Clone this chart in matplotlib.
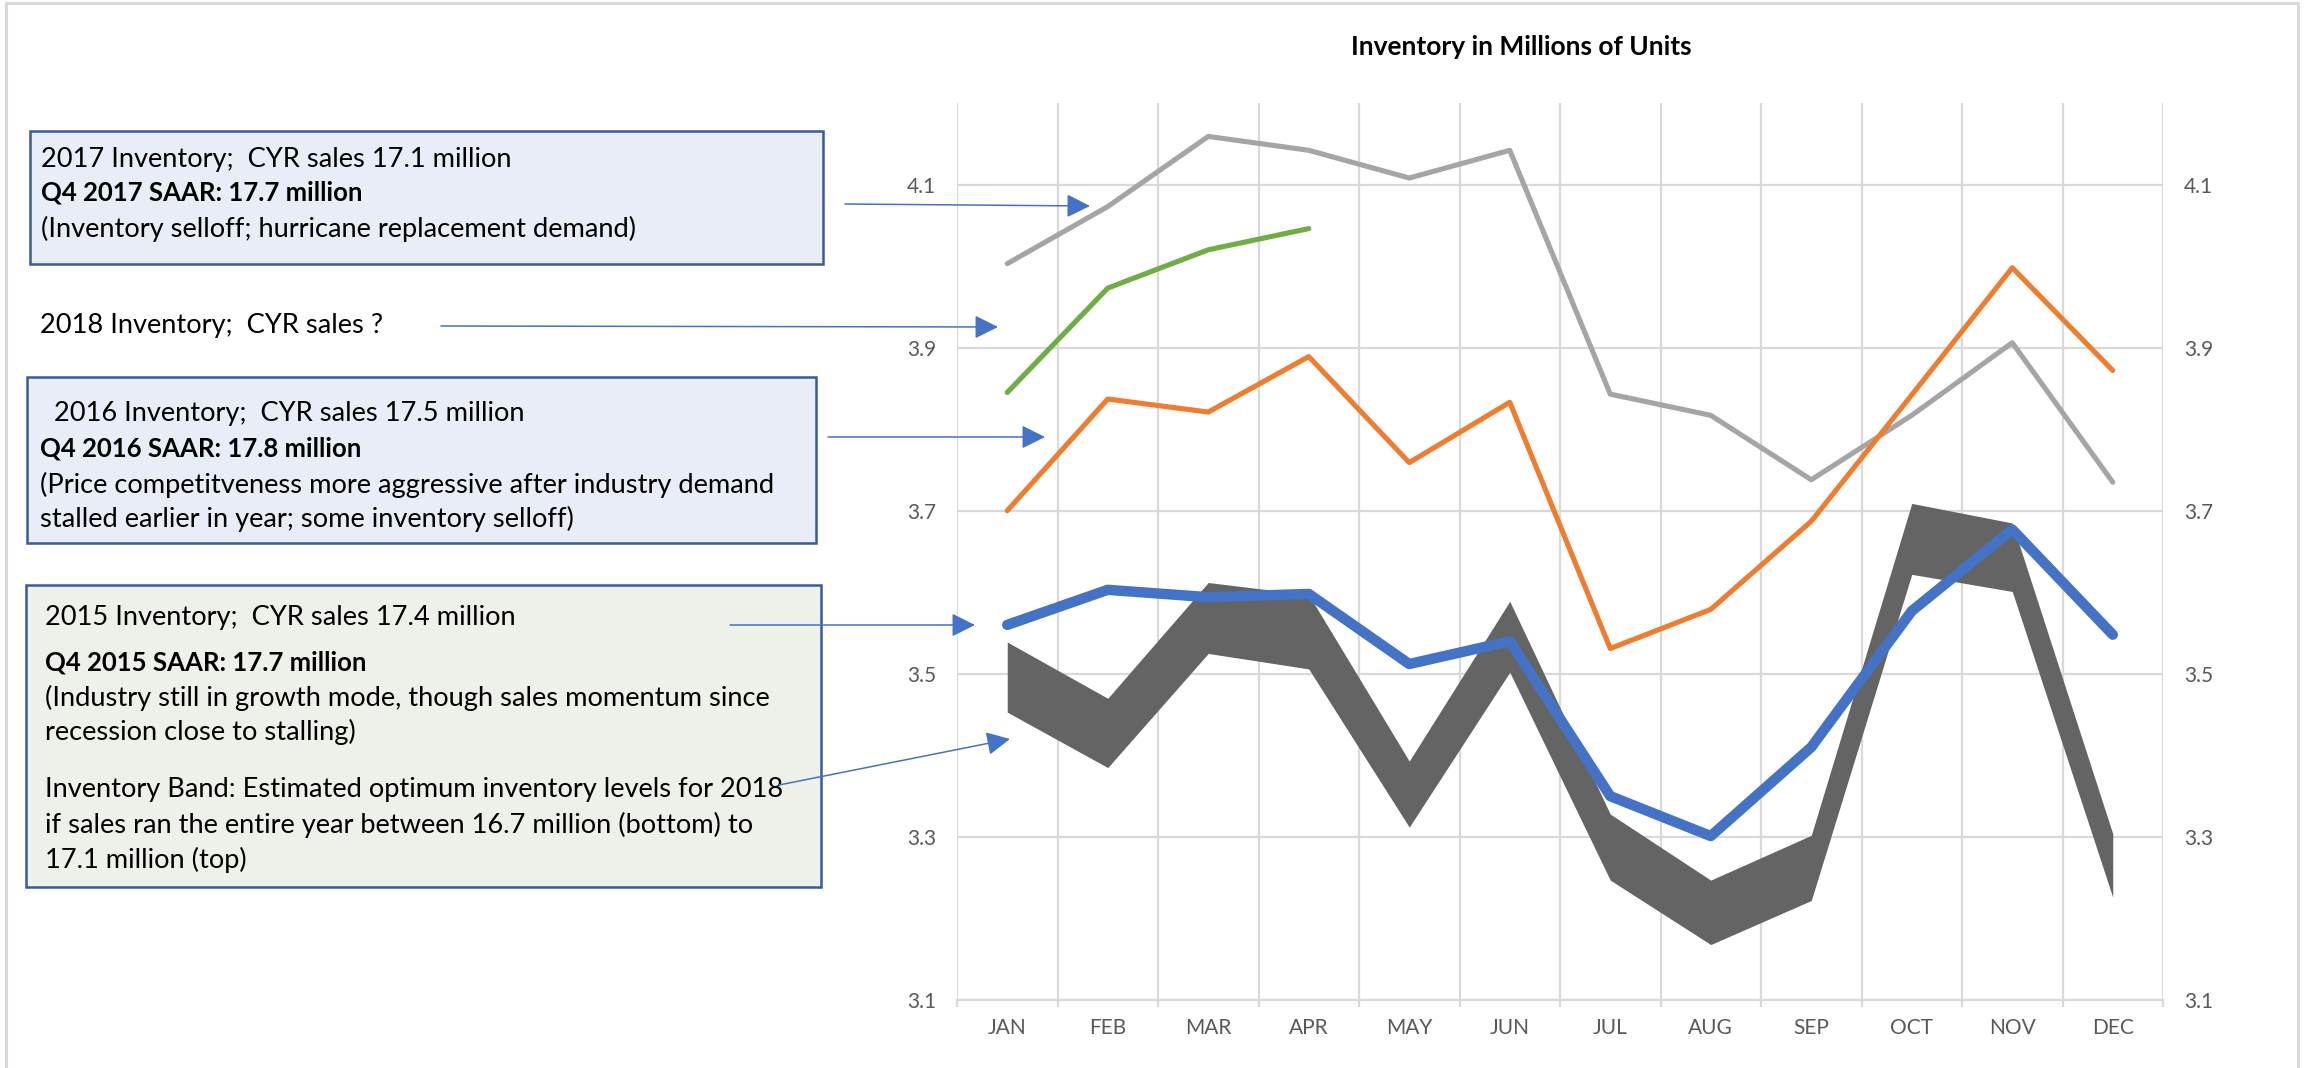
import matplotlib
matplotlib.use("Agg")
import matplotlib.pyplot as plt
from matplotlib.patches import Rectangle

# data (millions of units)
months = ["JAN", "FEB", "MAR", "APR", "MAY", "JUN", "JUL", "AUG", "SEP", "OCT", "NOV", "DEC"]
inv_2017 = [4.003, 4.073, 4.159, 4.142, 4.108, 4.142, 3.843, 3.817, 3.738, 3.817, 3.906, 3.735]
inv_2018 = [3.845, 3.973, 4.020, 4.046]
inv_2016 = [3.700, 3.837, 3.821, 3.889, 3.759, 3.833, 3.531, 3.579, 3.687, 3.842, 3.998, 3.872]
inv_2015 = [3.560, 3.603, 3.594, 3.598, 3.512, 3.540, 3.350, 3.301, 3.410, 3.577, 3.677, 3.548]
band_top = [3.539, 3.470, 3.612, 3.597, 3.393, 3.589, 3.328, 3.247, 3.302, 3.709, 3.685, 3.304]
band_bottom = [3.453, 3.385, 3.525, 3.506, 3.312, 3.502, 3.247, 3.168, 3.222, 3.622, 3.601, 3.226]
yticks = [3.1, 3.3, 3.5, 3.7, 3.9, 4.1]

FONT = ["Lato", "DejaVu Sans"]
plt.rcParams["font.family"] = FONT

W, H = 2304, 1068
fig = plt.figure(figsize=(W / 100, H / 100), dpi=100)
fig.patch.set_facecolor("white")

# chart area in pixels: x 957..2163, y 103..1000 (from top)
ax = fig.add_axes([957 / W, (H - 1000) / H, (2163 - 957) / W, (1000 - 103) / H])
x = list(range(len(months)))
ax.fill_between(x, band_bottom, band_top, color="#646464", lw=0, zorder=2)
ax.plot(x, inv_2017, color="#A5A5A5", lw=3.7, solid_capstyle="round", solid_joinstyle="round", zorder=3)
ax.plot(x, inv_2016, color="#ED7D31", lw=3.7, solid_capstyle="round", solid_joinstyle="round", zorder=4)
ax.plot(list(range(len(inv_2018))), inv_2018, color="#70AD47", lw=3.7,
        solid_capstyle="round", solid_joinstyle="round", zorder=5)
ax.plot(x, inv_2015, color="#4472C4", lw=7.5, solid_capstyle="round", solid_joinstyle="round", zorder=6)

ax.set_xlim(-0.5, len(months) - 0.5)
ax.set_ylim(3.1, 4.2)
ax.set_yticks(yticks)
ax.set_yticklabels([f"{v:.1f}" for v in yticks])
ax.set_xticks(x)
ax.set_xticklabels(months)
ax.set_xticks([i - 0.5 for i in range(len(months) + 1)], minor=True)
ax.grid(True, axis="y", which="major", color="#D9D9D9", lw=1.6, zorder=0)
ax.grid(True, axis="x", which="minor", color="#D9D9D9", lw=1.6, zorder=0)
ax.tick_params(axis="x", which="major", length=0, pad=13, labelsize=15, labelcolor="#595959")
ax.tick_params(axis="x", which="minor", length=5, width=1.6, color="#D9D9D9")
ax.tick_params(axis="y", length=0, pad=15, labelsize=15, labelcolor="#595959",
               labelleft=True, labelright=True)
for s in ["top", "left", "right"]:
    ax.spines[s].set_visible(False)
ax.spines["bottom"].set_color("#D9D9D9")
ax.spines["bottom"].set_linewidth(1.6)
ax.set_axisbelow(True)

fig.text(1521 / W, 1 - 47 / H, "Inventory in Millions of Units", ha="center", va="center",
         fontsize=19, fontweight="bold", color="black")

# overlay in pixel coords for text boxes and arrows
ov = fig.add_axes([0, 0, 1, 1], facecolor="none")
ov.set_xlim(0, W)
ov.set_ylim(H, 0)
ov.axis("off")

# outer frame
ov.plot([6, 6, 2298, 2298], [H, 3, 3, H], color="#D9D9D9", lw=2.2)

blue_fill = "#E9EDF7"
green_fill = "#EEF0EA"
edge = "#3A5A98"
ov.add_patch(Rectangle((30, 131), 793, 133, facecolor=blue_fill, edgecolor=edge, lw=1.8))
ov.add_patch(Rectangle((27, 377), 789, 166, facecolor=blue_fill, edgecolor=edge, lw=1.8))
ov.add_patch(Rectangle((26, 585), 795, 302, facecolor=green_fill, edgecolor=edge, lw=1.8))


def line(xp, yp, s, bold=False):
    ov.text(xp, yp, s, ha="left", va="center", color="black",
            fontsize=18.5 if bold else 19.6, fontweight="bold" if bold else "normal")


line(41, 159, "2017 Inventory;  CYR sales 17.1 million")
line(41, 193, "Q4 2017 SAAR: 17.7 million", bold=True)
line(41, 229, "(Inventory selloff; hurricane replacement demand)")

line(40, 326, "2018 Inventory;  CYR sales ?")

line(54, 414, "2016 Inventory;  CYR sales 17.5 million")
line(40, 448, "Q4 2016 SAAR: 17.8 million", bold=True)
line(40, 485, "(Price competitveness more aggressive after industry demand")
line(40, 519, "stalled earlier in year; some inventory selloff)")

line(45, 617, "2015 Inventory;  CYR sales 17.4 million")
line(45, 663, "Q4 2015 SAAR: 17.7 million", bold=True)
line(45, 698, "(Industry still in growth mode, though sales momentum since")
line(45, 732, "recession close to stalling)")
line(45, 790, "Inventory Band: Estimated optimum inventory levels for 2018")
line(45, 825, "if sales ran the entire year between 16.7 million (bottom) to")
line(45, 860, "17.1 million (top)")

arrows = [((845, 204), (1090, 206)),
          ((441, 326), (998, 327)),
          ((828, 437), (1045, 437)),
          ((730, 625), (975, 625)),
          ((779, 785), (1010, 739))]
for (x0, y0), (x1, y1) in arrows:
    ov.annotate("", xy=(x1, y1), xytext=(x0, y0),
                arrowprops=dict(arrowstyle="-|>,head_length=0.9,head_width=0.45",
                                mutation_scale=16, color="#4472C4", lw=1.1,
                                shrinkA=0, shrinkB=0))

fig.savefig("out.png", dpi=100)
